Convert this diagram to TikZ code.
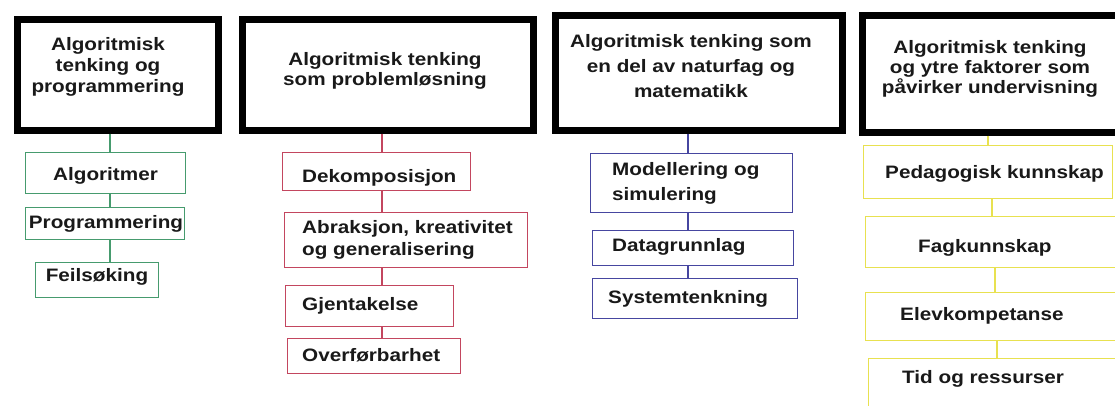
\documentclass[tikz,border=0pt]{standalone}
\usepackage{fontspec}
\setmainfont[FakeStretch=1.15]{Liberation Sans}
\definecolor{ink}{RGB}{25,25,25}
\definecolor{cgreen}{RGB}{70,155,110}
\definecolor{cred}{RGB}{195,70,95}
\definecolor{cblue}{RGB}{70,70,160}
\definecolor{cyellow}{RGB}{232,225,80}
\tikzset{
  hdr/.style={draw=black, line width=7pt, inner sep=0pt, anchor=north west},
  cbox/.style={draw=#1, line width=1.4pt, inner sep=0pt, anchor=north west},
  txt/.style={inner sep=0pt, text=ink, font=\bfseries\fontsize{18}{21}\selectfont},
  conn/.style={draw=#1, line width=1.4pt},
}
\begin{document}
\begin{tikzpicture}[x=1pt,y=-1pt]
\useasboundingbox (0,0) rectangle (1115,405);
\fill[white] (0,0) rectangle (1115,405);
\clip (0,0) rectangle (1115,405);

% header boxes
\node[hdr, minimum width=201pt, minimum height=111pt] (h1) at (13.5,15.5) {};
\node[hdr, minimum width=291pt, minimum height=111pt] (h2) at (238.5,15.5) {};
\node[hdr, minimum width=287pt, minimum height=115pt] (h3) at (551.5,11.5) {};
\node[hdr, minimum width=280pt, minimum height=117pt] (h4) at (858.5,11.5) {};

\node[txt, align=center, anchor=north, font=\bfseries\fontsize{18}{21}\selectfont] (h1t) at (108,37) {Algoritmisk\\tenking og\\programmering};
\node[txt, align=center, anchor=north, font=\bfseries\fontsize{18}{20}\selectfont] (h2t) at (385,52) {Algoritmisk tenking\\som problemløsning};
\node[txt, align=center, anchor=north, font=\bfseries\fontsize{18}{25}\selectfont] (h3t) at (691,34) {Algoritmisk tenking som\\en del av naturfag og\\matematikk};
\node[txt, align=center, anchor=north, font=\bfseries\fontsize{18}{20}\selectfont] (h4t) at (990,40) {Algoritmisk tenking\\og ytre faktorer som\\påvirker undervisning};

% column 1 (green)
\node[cbox=cgreen, minimum width=160pt, minimum height=41pt] (g1) at (25,152) {};
\node[cbox=cgreen, minimum width=159pt, minimum height=32pt] (g2) at (25,207) {};
\node[cbox=cgreen, minimum width=123pt, minimum height=35pt] (g3) at (35,262) {};
\node[txt, anchor=base] (g1t) at (105.5,180) {Algoritmer};
\node[txt, anchor=base] (g2t) at (106,228) {Programmering};
\node[txt, anchor=base] (g3t) at (97,281) {Feilsøking};
\coordinate (c1) at (110,0);
\draw[conn=cgreen] (h1.south -| c1) -- (g1.north -| c1);
\draw[conn=cgreen] (g1.south -| c1) -- (g2.north -| c1);
\draw[conn=cgreen] (g2.south -| c1) -- (g3.north -| c1);

% column 2 (red)
\node[cbox=cred, minimum width=188pt, minimum height=38pt] (r1) at (282,152) {};
\node[cbox=cred, minimum width=243pt, minimum height=55pt] (r2) at (284,212) {};
\node[cbox=cred, minimum width=168pt, minimum height=41pt] (r3) at (285,285) {};
\node[cbox=cred, minimum width=173pt, minimum height=35pt] (r4) at (287,338) {};
\node[txt, anchor=base west] (r1t) at (302,182) {Dekomposisjon};
\node[txt, anchor=north west, align=left, font=\bfseries\fontsize{18}{22}\selectfont] (r2t) at (302,220) {Abraksjon, kreativitet\\og generalisering};
\node[txt, anchor=base west] (r3t) at (302,310) {Gjentakelse};
\node[txt, anchor=base west] (r4t) at (302,361.5) {Overførbarhet};
\coordinate (c2) at (382,0);
\draw[conn=cred] (h2.south -| c2) -- (r1.north -| c2);
\draw[conn=cred] (r1.south -| c2) -- (r2.north -| c2);
\draw[conn=cred] (r2.south -| c2) -- (r3.north -| c2);
\draw[conn=cred] (r3.south -| c2) -- (r4.north -| c2);

% column 3 (blue)
\node[cbox=cblue, minimum width=202pt, minimum height=59pt] (b1) at (590,153) {};
\node[cbox=cblue, minimum width=201pt, minimum height=35pt] (b2) at (592,230) {};
\node[cbox=cblue, minimum width=205pt, minimum height=40pt] (b3) at (592,278) {};
\node[txt, anchor=north west, align=left, font=\bfseries\fontsize{18}{25}\selectfont] (b1t) at (612,162) {Modellering og\\simulering};
\node[txt, anchor=base west] (b2t) at (612,251.5) {Datagrunnlag};
\node[txt, anchor=base west] (b3t) at (608,303) {Systemtenkning};
\coordinate (c3) at (688,0);
\draw[conn=cblue] (h3.south -| c3) -- (b1.north -| c3);
\draw[conn=cblue] (b1.south -| c3) -- (b2.north -| c3);
\draw[conn=cblue] (b2.south -| c3) -- (b3.north -| c3);

% column 4 (yellow)
\node[cbox=cyellow, minimum width=249pt, minimum height=53pt] (y1) at (863,145) {};
\node[cbox=cyellow, minimum width=260pt, minimum height=51pt] (y2) at (865,216) {};
\node[cbox=cyellow, minimum width=260pt, minimum height=48pt] (y3) at (865,292) {};
\node[cbox=cyellow, minimum width=260pt, minimum height=70pt] (y4) at (868,358) {};
\node[txt, anchor=base west] (y1t) at (885,178) {Pedagogisk kunnskap};
\node[txt, anchor=base west] (y2t) at (918,252) {Fagkunnskap};
\node[txt, anchor=base west] (y3t) at (900,320) {Elevkompetanse};
\node[txt, anchor=base west] (y4t) at (902,383) {Tid og ressurser};
\coordinate (d1) at (988,0);
\coordinate (d2) at (992,0);
\coordinate (d3) at (995,0);
\coordinate (d4) at (997,0);
\draw[conn=cyellow] (h4.south -| d1) -- (y1.north -| d1);
\draw[conn=cyellow] (y1.south -| d2) -- (y2.north -| d2);
\draw[conn=cyellow] (y2.south -| d3) -- (y3.north -| d3);
\draw[conn=cyellow] (y3.south -| d4) -- (y4.north -| d4);
\end{tikzpicture}
\end{document}
